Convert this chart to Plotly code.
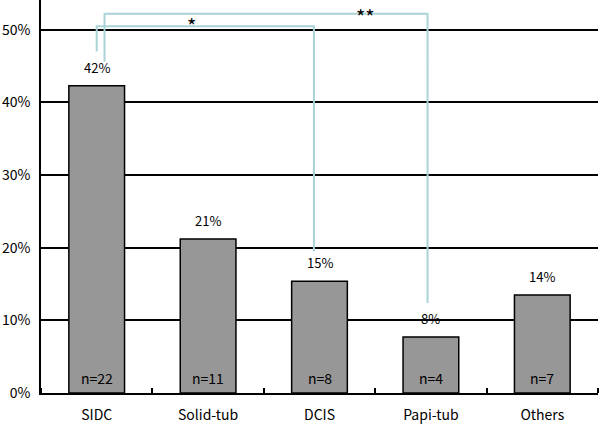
import plotly.graph_objects as go

categories = ["SIDC", "Solid-tub", "DCIS", "Papi-tub", "Others"]
percent = [42.3, 21.2, 15.4, 7.7, 13.5]
pct_labels = ["42%", "21%", "15%", "8%", "14%"]
counts = ["n=22", "n=11", "n=8", "n=4", "n=7"]
y_ticks = [0, 10, 20, 30, 40, 50]
y_tick_labels = ["0%", "10%", "20%", "30%", "40%", "50%"]

FONT = "Noto Sans CJK JP, Liberation Sans, sans-serif"
BRACKET = "#a9d3d6"

x = list(range(len(categories)))

fig = go.Figure()
fig.add_trace(go.Bar(
    x=x, y=percent, width=0.5,
    marker=dict(color="#979797", line=dict(color="black", width=1.5)),
    hoverinfo="skip", showlegend=False,
))

# significance brackets
fig.add_trace(go.Scatter(
    x=[0.0, 0.0, 1.95, 1.95], y=[47.0, 50.5, 50.5, 19.5],
    mode="lines", line=dict(color=BRACKET, width=2), showlegend=False, hoverinfo="skip",
))
fig.add_trace(go.Scatter(
    x=[0.07, 0.07, 2.97, 2.97], y=[45.6, 52.2, 52.2, 12.4],
    mode="lines", line=dict(color=BRACKET, width=2), showlegend=False, hoverinfo="skip",
))

annotations = []
for i, (v, p, n) in enumerate(zip(percent, pct_labels, counts)):
    annotations.append(dict(x=i, y=v, text=p, showarrow=False, yanchor="bottom", yshift=7,
                            font=dict(size=13, color="black", family=FONT)))
    annotations.append(dict(x=i, y=0, text=n, showarrow=False, yanchor="bottom", yshift=3,
                            font=dict(size=14, color="black", family=FONT)))
annotations.append(dict(x=0.85, y=50.6, text="*", showarrow=False,
                        font=dict(size=20, color="black", family=FONT)))
annotations.append(dict(x=2.41, y=54.1, text="**", showarrow=False, yanchor="top",
                        font=dict(size=20, color="black", family=FONT)))

fig.update_layout(
    width=600, height=427,
    margin=dict(l=41, r=2, t=0, b=34),
    plot_bgcolor="white", paper_bgcolor="white",
    font=dict(family=FONT, size=14, color="black"),
    annotations=annotations,
    bargap=0.5,
)
fig.update_xaxes(
    range=[-0.5, 4.5], tickvals=x, ticktext=categories, ticks="",
    showgrid=False, zeroline=False, showline=True, linecolor="black", linewidth=1.5,
    tickfont=dict(size=14, family=FONT), ticklabelstandoff=8,
    minor=dict(tick0=0.5, dtick=1, ticks="inside", ticklen=5, tickcolor="black", tickwidth=1.5),
)
fig.update_yaxes(
    range=[0, 54.1], tickvals=y_ticks, ticktext=y_tick_labels,
    showgrid=True, gridcolor="black", gridwidth=1.5, zeroline=False,
    showline=True, linecolor="black", linewidth=1.5, ticks="",
    tickfont=dict(size=14, family=FONT), ticklabelstandoff=6,
)

fig.write_html("out.html", config={"displayModeBar": False},
               post_script="document.body.style.margin='0';")
